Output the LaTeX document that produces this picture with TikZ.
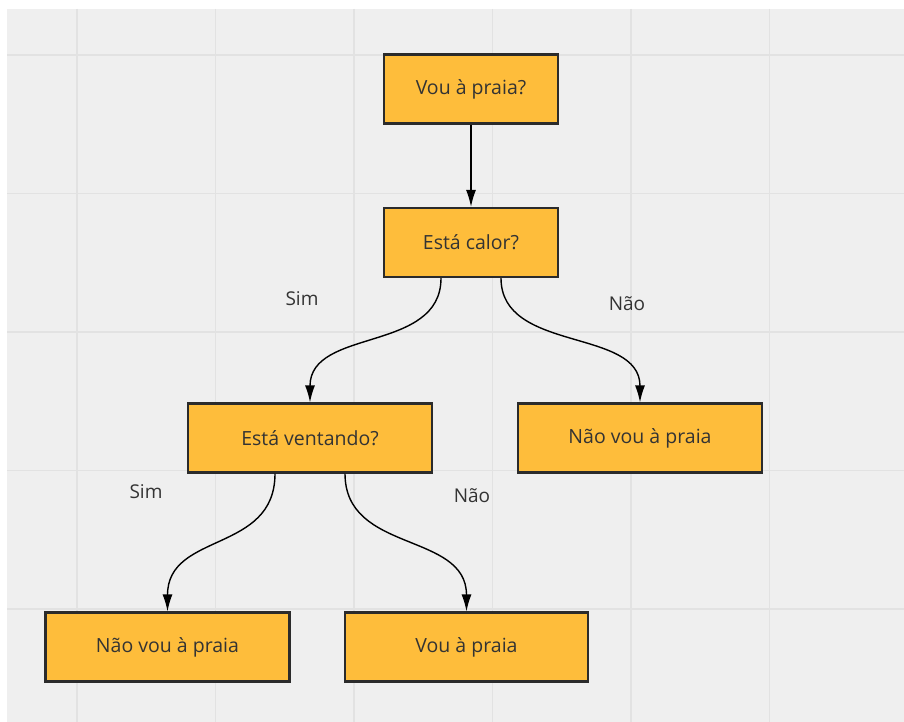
\documentclass[tikz,border=0pt]{standalone}
\usepackage{fontspec}
\setmainfont{Open Sans}
\usetikzlibrary{arrows.meta}
\definecolor{bg}{HTML}{EFEFEF}
\definecolor{gridc}{HTML}{E2E2E2}
\definecolor{boxfill}{HTML}{FEBD3B}
\definecolor{boxline}{HTML}{2B2B2B}
\definecolor{txt}{HTML}{333333}
\begin{document}
\begin{tikzpicture}[x=1pt,y=-1pt,
  box/.style={draw=boxline,line width=2.2pt,fill=boxfill,minimum width=#1,minimum height=69pt,inner sep=0pt,text=txt,font=\fontsize{19.5}{23}\selectfont},
  box/.default=174pt,
  lbl/.style={text=txt,font=\fontsize{19}{23}\selectfont},
  conn/.style={draw=black,line width=1.4pt,-{Latex[length=17pt,width=10pt]}}]
\useasboundingbox (0,0) rectangle (904,722);
\fill[white] (0,0) rectangle (904,722);
\fill[bg] (7,9) rectangle (904,722);
\foreach \i in {0,...,5} \draw[gridc,line width=1.5pt] ({77+138.5*\i},9) -- ({77+138.5*\i},722);
\foreach \i in {0,...,4} \draw[gridc,line width=1.5pt] (7,{55+138.5*\i}) -- (904,{55+138.5*\i});

\node[box] (q1) at (471,89) {Vou à praia?};
\node[box] (q2) at (471,242.5) {Está calor?};
\node[box=244pt] (q3) at (310,438) {Está ventando?};
\node[box=244pt] (r1) at (640,438) {Não vou à praia};
\node[box=244pt] (r2) at (167.5,647) {Não vou à praia};
\node[box=243pt] (r3) at (466.5,647) {Vou à praia};

\draw[conn] (q1.south) -- (q2.north);
\draw[conn] ([xshift=-30pt]q2.south) .. controls +(0,75) and +(0,-75) .. (q3.north);
\draw[conn] ([xshift=30pt]q2.south) .. controls +(0,75) and +(0,-75) .. (r1.north);
\draw[conn] ([xshift=-35pt]q3.south) .. controls +(0,80) and +(0,-80) .. (r2.north);
\draw[conn] ([xshift=35pt]q3.south) .. controls +(0,80) and +(0,-80) .. (r3.north);

\node[lbl] (s1) at (302,299) {Sim};
\node[lbl] (n1) at (627,304) {Não};
\node[lbl] (s2) at (146,492) {Sim};
\node[lbl] (n2) at (472,496) {Não};
\end{tikzpicture}
\end{document}
